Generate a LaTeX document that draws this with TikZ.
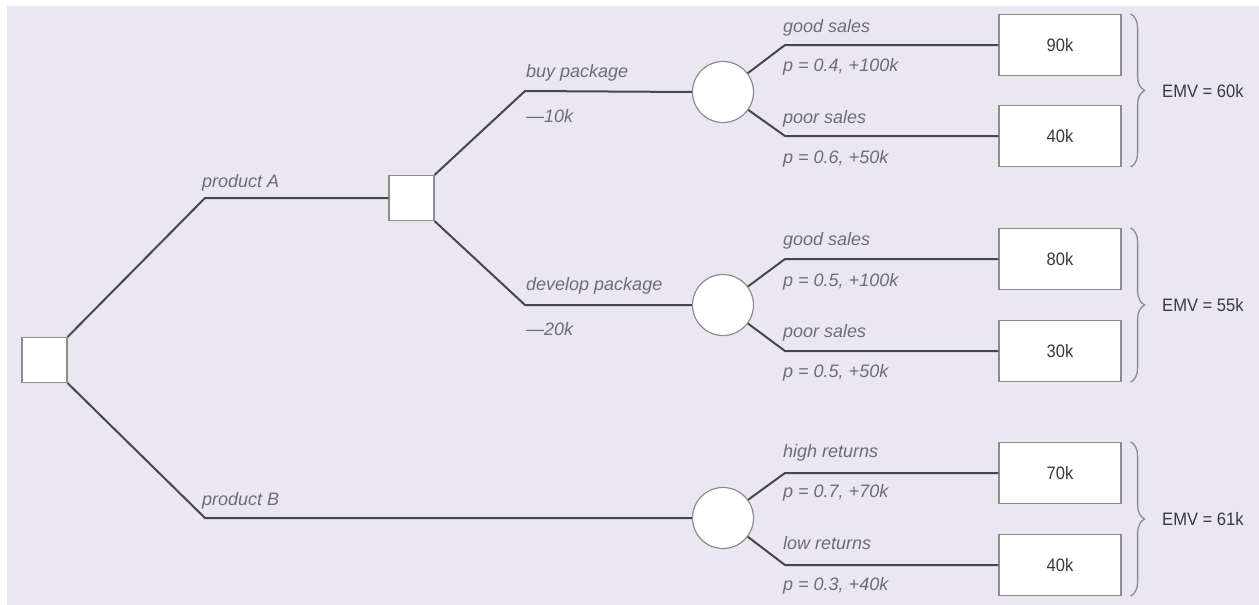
\documentclass[tikz,border=0pt]{standalone}
\usepackage{fontspec}
\setmainfont{Liberation Sans}
\newfontfamily\valfont{Liberation Sans}[FakeStretch=0.92]
\usetikzlibrary{positioning,decorations.pathreplacing}
\definecolor{bgcol}{HTML}{EAE7F2}
\definecolor{linecol}{HTML}{474747}
\definecolor{boxcol}{HTML}{8C8C8C}
\definecolor{lblcol}{HTML}{6E6E6E}
\definecolor{valcol}{HTML}{3A3A3A}

\begin{document}
\begin{tikzpicture}[x=1pt,y=-1pt]
	\tikzset{branch/.style={draw=linecol, line width=2pt}}
	\tikzset{decision/.style={draw=boxcol, fill=white, line width=1.2pt, minimum size=45pt, inner sep=0pt}}
	\tikzset{chance/.style={circle, draw=boxcol, fill=white, line width=1.2pt, minimum size=61pt, inner sep=0pt}}
	\tikzset{payoff/.style={draw=boxcol, fill=white, line width=1.2pt, minimum width=122pt, minimum height=61pt, inner sep=0pt, font=\valfont\fontsize{18}{20}\selectfont, text=valcol}}
	\tikzset{lbl/.style={anchor=base west, inner sep=0pt, font=\itshape\fontsize{18}{20}\selectfont, text=lblcol}}
	\tikzset{emv/.style={anchor=west, inner sep=0pt, font=\valfont\fontsize{18}{20}\selectfont, text=valcol}}
	\tikzset{emvbrace/.style={draw=boxcol, line width=1.3pt, decorate, decoration={brace, amplitude=14pt}}}

	% background
	\fill[white] (0,0) rectangle (1259,605);
	\fill[bgcol] (7,6) rectangle (1259,605);
	\useasboundingbox (0,0) rectangle (1259,605);

	% decision and chance nodes
	\node[decision] (root) at (44.5,360) {};
	\node[decision] (dec) at (411.5,198) {};
	\node[chance] (cBuy) at (723,92) {};
	\node[chance] (cDev) at (723,305) {};
	\node[chance] (cB) at (723,518) {};

	% kinks
	\coordinate (kA) at (205,198);
	\coordinate (kB) at (205,518);
	\coordinate (kBuy) at (525,91);
	\coordinate (kDev) at (525,305);
	\coordinate (kBuyGood) at (785,45);
	\coordinate (kBuyPoor) at (785,136);
	\coordinate (kDevGood) at (785,259);
	\coordinate (kDevPoor) at (785,351);
	\coordinate (kHigh) at (785,473);
	\coordinate (kLow) at (785,565);

	% payoffs
	\node[payoff] (pBuyGood) at (1060,45) {90k};
	\node[payoff] (pBuyPoor) at (1060,136) {40k};
	\node[payoff] (pDevGood) at (1060,259) {80k};
	\node[payoff] (pDevPoor) at (1060,351) {30k};
	\node[payoff] (pHigh) at (1060,473) {70k};
	\node[payoff] (pLow) at (1060,565) {40k};

	% branches
	\draw[branch] (root.north east) -- (kA) -- (dec.west);
	\draw[branch] (root.south east) -- (kB) -- (cB.west);
	\draw[branch] (dec.north east) -- (kBuy) -- (cBuy.west);
	\draw[branch] (dec.south east) -- (kDev) -- (cDev.west);
	\draw[branch] (cBuy) -- (kBuyGood) -- (pBuyGood.west);
	\draw[branch] (cBuy) -- (kBuyPoor) -- (pBuyPoor.west);
	\draw[branch] (cDev) -- (kDevGood) -- (pDevGood.west);
	\draw[branch] (cDev) -- (kDevPoor) -- (pDevPoor.west);
	\draw[branch] (cB) -- (kHigh) -- (pHigh.west);
	\draw[branch] (cB) -- (kLow) -- (pLow.west);

	% labels
	\node[lbl] (lA) at (202,187) {product A};
	\node[lbl] (lB) at (202,505) {product B};
	\node[lbl] (lBuy) at (526,77) {buy package};
	\node[lbl] (lBuyCost) at (526,122) {—10k};
	\node[lbl] (lDev) at (526,290) {develop package};
	\node[lbl] (lDevCost) at (526,335) {—20k};
	\node[lbl] (lBuyGood) at (783,32) {good sales};
	\node[lbl] (lBuyGoodP) at (783,71) {p = 0.4, +100k};
	\node[lbl] (lBuyPoor) at (783,123) {poor sales};
	\node[lbl] (lBuyPoorP) at (783,163) {p = 0.6, +50k};
	\node[lbl] (lDevGood) at (783,245) {good sales};
	\node[lbl] (lDevGoodP) at (783,286) {p = 0.5, +100k};
	\node[lbl] (lDevPoor) at (783,337) {poor sales};
	\node[lbl] (lDevPoorP) at (783,377) {p = 0.5, +50k};
	\node[lbl] (lHigh) at (783,457) {high returns};
	\node[lbl] (lHighP) at (783,497) {p = 0.7, +70k};
	\node[lbl] (lLow) at (783,549) {low returns};
	\node[lbl] (lLowP) at (783,590) {p = 0.3, +40k};

	% expected values
	\draw[emvbrace] ([xshift=9pt]pBuyGood.north east) -- ([xshift=9pt]pBuyPoor.south east);
	\draw[emvbrace] ([xshift=9pt]pDevGood.north east) -- ([xshift=9pt]pDevPoor.south east);
	\draw[emvbrace] ([xshift=9pt]pHigh.north east) -- ([xshift=9pt]pLow.south east);
	\node[emv] (emvBuy) at (1162,91) {EMV = 60k};
	\node[emv] (emvDev) at (1162,305) {EMV = 55k};
	\node[emv] (emvB) at (1162,519) {EMV = 61k};
\end{tikzpicture}
\end{document}
